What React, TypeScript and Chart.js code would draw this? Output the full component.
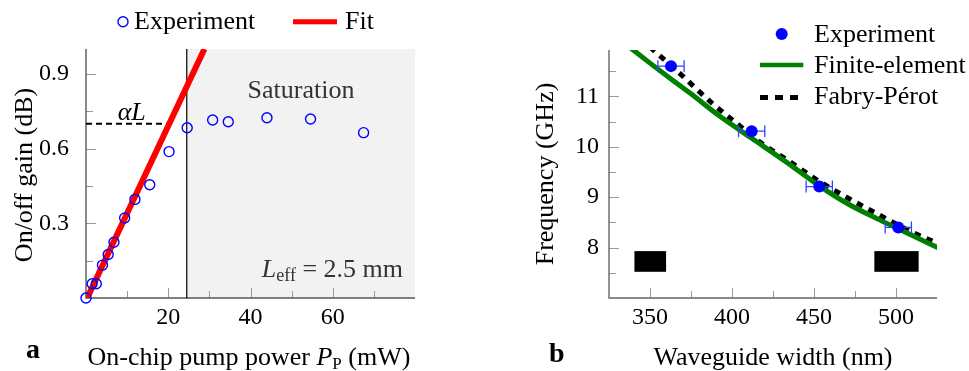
import React, { useEffect, useRef } from "react";
import { Chart, registerables } from "chart.js";

Chart.register(...registerables);

const SERIF = '"Liberation Serif", "Times New Roman", serif';
const fnt = (size: number, style = "") => `${style} ${size}px ${SERIF}`.trim();
const TXT = 26;
const TICK = 24;

// ---------------- Panel a : gain vs pump power ----------------
const pumpPowerMW = [0, 1.5, 2.5, 4.0, 5.4, 6.8, 9.4, 11.9, 15.5, 20.2, 24.6, 30.8, 34.6, 44.0, 54.6, 67.5];
const onOffGainDB = [0.0, 0.057, 0.057, 0.132, 0.175, 0.224, 0.321, 0.396, 0.455, 0.588, 0.684, 0.715, 0.708, 0.724, 0.719, 0.664];
const fitPowerMW = [0.3, 28.8];
const fitGainDB = [0.0, 1.0];
const alphaLPowerMW = [0, 20];
const alphaLGainDB = [0.7, 0.7];
const saturationPowerMW = 24.5;
const powerMajorTicks = [20, 40, 60];
const powerMinorTicks = [10, 30, 50, 70];
const gainMajorTicks = [0.3, 0.6, 0.9];
const gainMinorTicks = [0.15, 0.45, 0.75];

// ---------------- Panel b : frequency vs waveguide width ----------------
const widthNm = [362.8, 412.0, 453.2, 501.4];
const freqGHz = [11.6, 10.31, 9.21, 8.4];
const widthErrNm = [8, 8, 8, 8];
const feWidthNm = [337, 350, 363, 375, 392, 412, 433, 453, 470, 490, 510, 528];
const feFreqGHz = [11.99, 11.66, 11.34, 11.05, 10.62, 10.17, 9.7, 9.23, 8.88, 8.55, 8.24, 7.96];
const fpWidthNm = [350, 367, 388, 403, 418, 435, 451, 467, 485, 511, 528];
const fpFreqGHz = [11.98, 11.49, 10.86, 10.46, 10.07, 9.71, 9.36, 9.05, 8.73, 8.29, 8.05];
const insetWidthNm = [
  [340.5, 359.8],
  [486.8, 513.8],
];
const insetFreqGHz = [7.52, 7.93];
const widthMajorTicks = [350, 400, 450, 500];
const widthMinorTicks = [375, 425, 475];
const freqMajorTicks = [8, 9, 10, 11];
const freqMinorTicks = [7.5, 8.5, 9.5, 10.5, 11.5];

type Run = { t: string; font: string; dy?: number };

function drawRuns(ctx: CanvasRenderingContext2D, runs: Run[], x: number, y: number, align: string, color: string) {
  ctx.save();
  ctx.fillStyle = color;
  ctx.textBaseline = "alphabetic";
  ctx.textAlign = "left";
  const widths = runs.map((r) => {
    ctx.font = r.font;
    return ctx.measureText(r.t).width;
  });
  const total = widths.reduce((a, b) => a + b, 0);
  let cx = align === "left" ? x : align === "center" ? x - total / 2 : x - total;
  runs.forEach((r, i) => {
    ctx.font = r.font;
    ctx.fillText(r.t, cx, y + (r.dy || 0));
    cx += widths[i];
  });
  ctx.restore();
}

function drawRotated(ctx: CanvasRenderingContext2D, text: string, x: number, y: number) {
  ctx.save();
  ctx.translate(x, y);
  ctx.rotate(-Math.PI / 2);
  ctx.font = fnt(TXT);
  ctx.fillStyle = "#000";
  ctx.textAlign = "center";
  ctx.textBaseline = "alphabetic";
  ctx.fillText(text, 0, 0);
  ctx.restore();
}

function axesPlugin(o: any) {
  return {
    id: "inwardAxes",
    beforeDatasetsDraw(chart: any) {
      const { ctx, chartArea: a } = chart;
      const xs = chart.scales.x;
      const ys = chart.scales.y;
      ctx.save();
      if (o.shadeFrom != null) {
        const sx = xs.getPixelForValue(o.shadeFrom);
        ctx.fillStyle = "#f2f2f2";
        ctx.fillRect(sx, a.top, a.right - sx, a.bottom - a.top);
      }
      if (o.boxes) o.boxes(chart);
      ctx.strokeStyle = o.tickColor;
      ctx.lineWidth = 1;
      const xt = (vals: number[], len: number) => {
        vals.forEach((v) => {
          const px = Math.round(xs.getPixelForValue(v)) + 0.5;
          ctx.beginPath();
          ctx.moveTo(px, a.bottom);
          ctx.lineTo(px, a.bottom - len);
          ctx.stroke();
        });
      };
      const yt = (vals: number[], len: number) => {
        vals.forEach((v) => {
          const py = Math.round(ys.getPixelForValue(v)) + 0.5;
          ctx.beginPath();
          ctx.moveTo(a.left, py);
          ctx.lineTo(a.left + len, py);
          ctx.stroke();
        });
      };
      xt(o.xMajor, 10);
      xt(o.xMinor, 7);
      yt(o.yMajor, 10);
      yt(o.yMinor, 7);
      ctx.strokeStyle = o.axisColor;
      ctx.lineWidth = 1.4;
      ctx.beginPath();
      ctx.moveTo(a.left, a.top);
      ctx.lineTo(a.left, a.bottom);
      ctx.lineTo(a.right, a.bottom);
      ctx.stroke();
      ctx.restore();
    },
  };
}

function scaleCfg(min: number, max: number, ticks: number[], padding: number, fmt: (v: number) => string, fit: (s: any) => void) {
  return {
    type: "linear",
    min,
    max,
    grid: { display: false, drawTicks: false },
    border: { display: false },
    ticks: {
      font: { family: SERIF, size: TICK },
      color: "#000",
      padding,
      autoSkip: false,
      maxRotation: 0,
      callback: (v: any) => fmt(Number(v)),
    },
    afterBuildTicks: (ax: any) => {
      ax.ticks = ticks.map((v) => ({ value: v }));
    },
    afterFit: fit,
  };
}

export default function App() {
  const refA = useRef<HTMLCanvasElement>(null);
  const refB = useRef<HTMLCanvasElement>(null);

  useEffect(() => {
    const pts = (xs: number[], ys: number[]) => xs.map((x, i) => ({ x, y: ys[i] }));

    const annotA = {
      id: "annotA",
      afterDraw(chart: any) {
        const { ctx } = chart;
        ctx.save();
        ctx.strokeStyle = "#0000ff";
        ctx.lineWidth = 1.4;
        ctx.beginPath();
        ctx.arc(123, 21.7, 5, 0, Math.PI * 2);
        ctx.stroke();
        ctx.strokeStyle = "#ff0000";
        ctx.lineWidth = 5;
        ctx.beginPath();
        ctx.moveTo(293, 21.7);
        ctx.lineTo(337, 21.7);
        ctx.stroke();
        ctx.restore();
        drawRuns(ctx, [{ t: "Experiment", font: fnt(TXT) }], 134, 29, "left", "#000");
        drawRuns(ctx, [{ t: "Fit", font: fnt(TXT) }], 345, 29, "left", "#000");
        drawRuns(ctx, [{ t: "αL", font: fnt(TXT, "italic") }], 131.7, 120, "center", "#000");
        drawRuns(ctx, [{ t: "Saturation", font: fnt(TXT) }], 301, 97.7, "center", "#333");
        drawRuns(
          ctx,
          [
            { t: "L", font: fnt(TXT, "italic") },
            { t: "eff", font: fnt(18), dy: 4 },
            { t: " = 2.5 mm", font: fnt(TXT) },
          ],
          403,
          276.7,
          "right",
          "#333"
        );
        drawRotated(ctx, "On/off gain (dB)", 31.7, 175);
        drawRuns(
          ctx,
          [
            { t: "On-chip pump power ", font: fnt(TXT) },
            { t: "P", font: fnt(TXT, "italic") },
            { t: "P", font: fnt(17), dy: 4 },
            { t: " (mW)", font: fnt(TXT) },
          ],
          249,
          365,
          "center",
          "#000"
        );
        drawRuns(ctx, [{ t: "a", font: fnt(28, "bold") }], 26, 358, "left", "#000");
      },
    };

    const chartA = new Chart(refA.current as HTMLCanvasElement, {
      type: "scatter",
      data: {
        datasets: [
          {
            label: "Experiment",
            data: pts(pumpPowerMW, onOffGainDB),
            pointRadius: 5,
            pointBorderWidth: 1.4,
            pointBorderColor: "#0000ff",
            pointBackgroundColor: "rgba(0,0,0,0)",
            showLine: false,
            clip: false,
            order: 0,
          },
          {
            label: "Fit",
            data: pts(fitPowerMW, fitGainDB),
            showLine: true,
            borderColor: "#ff0000",
            borderWidth: 6,
            pointRadius: 0,
            clip: 0,
            order: 1,
          },
          {
            label: "alphaL",
            data: pts(alphaLPowerMW, alphaLGainDB),
            showLine: true,
            borderColor: "#000",
            borderWidth: 2,
            borderDash: [6, 4],
            pointRadius: 0,
            order: 2,
          },
          {
            label: "saturation",
            data: pts([saturationPowerMW, saturationPowerMW], [0, 1]),
            showLine: true,
            borderColor: "#000",
            borderWidth: 1.2,
            pointRadius: 0,
            order: 3,
          },
        ],
      } as any,
      options: {
        responsive: false,
        animation: false,
        events: [],
        devicePixelRatio: 1,
        layout: { padding: { left: 0, top: 49, right: 70, bottom: 0 } },
        plugins: { legend: { display: false }, tooltip: { enabled: false } },
        scales: {
          x: scaleCfg(0, 80, powerMajorTicks, 5, (v) => String(v), (s: any) => {
            s.height = 73;
          }),
          y: scaleCfg(0, 1.0, gainMajorTicks, 17, (v) => v.toFixed(1), (s: any) => {
            s.width = 86;
          }),
        },
      } as any,
      plugins: [
        axesPlugin({
          shadeFrom: saturationPowerMW,
          xMajor: powerMajorTicks,
          xMinor: powerMinorTicks,
          yMajor: gainMajorTicks,
          yMinor: gainMinorTicks,
          axisColor: "#555",
          tickColor: "#999",
        }),
        annotA,
      ] as any,
    });

    const errorBars = {
      id: "errorBars",
      beforeDatasetDraw(chart: any, args: any) {
        if (args.index !== 0) return;
        const { ctx } = chart;
        const xs = chart.scales.x;
        const ys = chart.scales.y;
        ctx.save();
        ctx.strokeStyle = "#3344ff";
        ctx.lineWidth = 1.3;
        widthNm.forEach((w, i) => {
          const x0 = xs.getPixelForValue(w - widthErrNm[i]);
          const x1 = xs.getPixelForValue(w + widthErrNm[i]);
          const y = ys.getPixelForValue(freqGHz[i]);
          ctx.beginPath();
          ctx.moveTo(x0, y);
          ctx.lineTo(x1, y);
          ctx.moveTo(x0, y - 6);
          ctx.lineTo(x0, y + 6);
          ctx.moveTo(x1, y - 6);
          ctx.lineTo(x1, y + 6);
          ctx.stroke();
        });
        ctx.restore();
      },
    };

    const annotB = {
      id: "annotB",
      afterDraw(chart: any) {
        const { ctx } = chart;
        ctx.save();
        ctx.fillStyle = "#0000ff";
        ctx.beginPath();
        ctx.arc(296.7, 34, 6, 0, Math.PI * 2);
        ctx.fill();
        ctx.strokeStyle = "#008000";
        ctx.lineWidth = 4.5;
        ctx.beginPath();
        ctx.moveTo(275, 65);
        ctx.lineTo(318.3, 65);
        ctx.stroke();
        ctx.fillStyle = "#000";
        [275, 290, 305].forEach((x) => ctx.fillRect(x, 95, 8, 5));
        ctx.restore();
        drawRuns(ctx, [{ t: "Experiment", font: fnt(TXT) }], 329, 41.7, "left", "#000");
        drawRuns(ctx, [{ t: "Finite-element", font: fnt(TXT) }], 329, 72.7, "left", "#000");
        drawRuns(ctx, [{ t: "Fabry-Pérot", font: fnt(TXT) }], 329, 104.3, "left", "#000");
        drawRotated(ctx, "Frequency (GHz)", 68.3, 174);
        drawRuns(ctx, [{ t: "Waveguide width (nm)", font: fnt(TXT) }], 288, 365, "center", "#000");
        drawRuns(ctx, [{ t: "b", font: fnt(28, "bold") }], 64, 361.7, "left", "#000");
      },
    };

    const chartB = new Chart(refB.current as HTMLCanvasElement, {
      type: "scatter",
      data: {
        datasets: [
          {
            label: "Experiment",
            data: pts(widthNm, freqGHz),
            pointRadius: 6,
            pointBorderWidth: 0,
            pointBackgroundColor: "#0000ff",
            showLine: false,
            clip: false,
            order: 0,
          },
          {
            label: "Finite-element",
            data: pts(feWidthNm, feFreqGHz),
            showLine: true,
            borderColor: "#008000",
            borderWidth: 5,
            pointRadius: 0,
            tension: 0.4,
            cubicInterpolationMode: "monotone",
            clip: 0,
            order: 1,
          },
          {
            label: "Fabry-Pérot",
            data: pts(fpWidthNm, fpFreqGHz),
            showLine: true,
            borderColor: "#000",
            borderWidth: 5,
            borderDash: [6.5, 6.5],
            pointRadius: 0,
            tension: 0.4,
            cubicInterpolationMode: "monotone",
            clip: 0,
            order: 2,
          },
        ],
      } as any,
      options: {
        responsive: false,
        animation: false,
        events: [],
        devicePixelRatio: 1,
        layout: { padding: { left: 0, top: 50, right: 32, bottom: 0 } },
        plugins: { legend: { display: false }, tooltip: { enabled: false } },
        scales: {
          x: scaleCfg(325, 525, widthMajorTicks, 5, (v) => String(v), (s: any) => {
            s.height = 73;
          }),
          y: scaleCfg(7, 11.92, freqMajorTicks, 10, (v) => String(v), (s: any) => {
            s.width = 124;
          }),
        },
      } as any,
      plugins: [
        axesPlugin({
          xMajor: widthMajorTicks,
          xMinor: widthMinorTicks,
          yMajor: freqMajorTicks,
          yMinor: freqMinorTicks,
          axisColor: "#666",
          tickColor: "#999",
          boxes: (chart: any) => {
            const { ctx } = chart;
            const xs = chart.scales.x;
            const ys = chart.scales.y;
            ctx.fillStyle = "#000";
            insetWidthNm.forEach(([w0, w1]) => {
              const x0 = xs.getPixelForValue(w0);
              const x1 = xs.getPixelForValue(w1);
              const y0 = ys.getPixelForValue(insetFreqGHz[1]);
              const y1 = ys.getPixelForValue(insetFreqGHz[0]);
              ctx.fillRect(x0, y0, x1 - x0, y1 - y0);
            });
          },
        }),
        errorBars,
        annotB,
      ] as any,
    });

    return () => {
      chartA.destroy();
      chartB.destroy();
    };
  }, []);

  return (
    <div style={{ position: "fixed", left: 0, top: 0, width: 969, height: 371, background: "#fff" }}>
      <canvas ref={refA} width={485} height={371} style={{ position: "absolute", left: 0, top: 0, display: "block" }} />
      <canvas ref={refB} width={484} height={371} style={{ position: "absolute", left: 485, top: 0, display: "block" }} />
    </div>
  );
}
